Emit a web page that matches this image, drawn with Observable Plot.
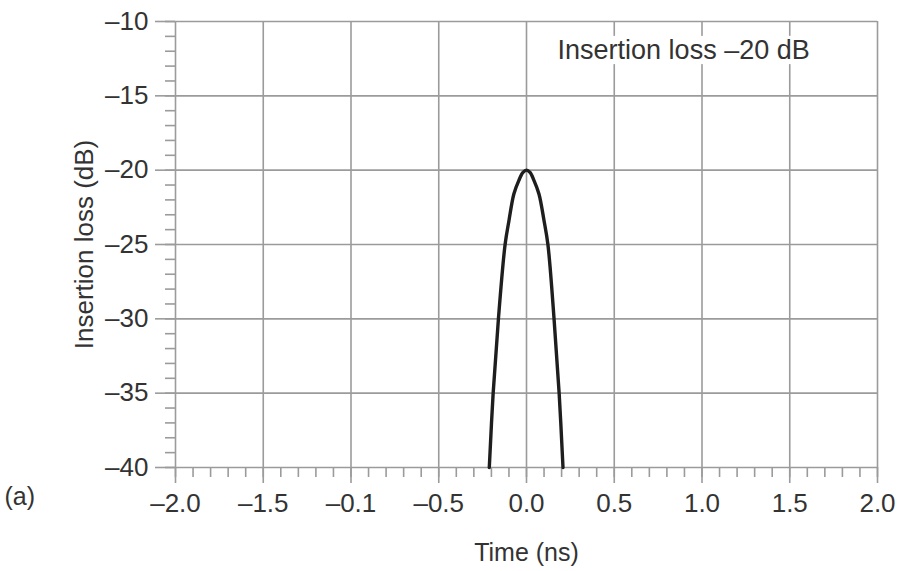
<!DOCTYPE html>
<html>
<head>
<meta charset="utf-8">
<script src="https://cdn.jsdelivr.net/npm/d3@7"></script>
<script src="https://cdn.jsdelivr.net/npm/@observablehq/plot@0.6"></script>
<style>
  html, body { margin: 0; padding: 0; background: #fff; }
  #chart { width: 899px; height: 571px; }
</style>
</head>
<body>
<div id="chart"></div>
<script>
// ---- data ----
const xMajor = [-2, -1.5, -1, -0.5, 0, 0.5, 1, 1.5, 2];
const xTickLabels = ["–2.0", "–1.5", "–0.1", "–0.5", "0.0", "0.5", "1.0", "1.5", "2.0"];
const xMinor = d3.range(-20, 21).map(d => d / 10);
const yMajor = [-40, -35, -30, -25, -20, -15, -10];
const yTickLabels = ["–40", "–35", "–30", "–25", "–20", "–15", "–10"];
const yMinor = d3.range(-40, -9);

const timeNs = [-0.212, -0.19, -0.16, -0.122, -0.10, -0.072, -0.044, -0.02, 0, 0.02, 0.043, 0.071, 0.10, 0.122, 0.157, 0.186, 0.208];
const lossDb = [-40, -35, -30, -25, -23.4, -21.6, -20.7, -20.15, -20, -20.15, -20.7, -21.6, -23.4, -25, -30, -35, -40];

const annotationText = ["Insertion loss –20 dB"];
const annotationAt = [{x: 0.177, y: -11.95}];
const annotationBox = [{x1: 0.14, x2: 1.68, y1: -11.0, y2: -12.9}];

const xTitle = "Time (ns)";
const yTitle = "Insertion loss (dB)";
const panelLabel = "(a)";

// ---- chart ----
const curve = timeNs.map((t, i) => ({t, v: lossDb[i]}));
const gridColor = "#9b9b9b";
const textColor = "#333333";
const font = "'Liberation Sans', Arial, sans-serif";

const fmtX = d => xTickLabels[xMajor.indexOf(d)];
const fmtY = d => yTickLabels[yMajor.indexOf(d)];

const chart = Plot.plot({
  width: 899,
  height: 571,
  marginLeft: 175,
  marginRight: 22,
  marginTop: 21,
  marginBottom: 104,
  style: {fontFamily: font, color: textColor, background: "#fff", overflow: "visible"},
  x: {domain: [-2, 2]},
  y: {domain: [-40, -10]},
  marks: [
    Plot.gridX(xMajor, {stroke: gridColor, strokeOpacity: 1, strokeWidth: 1.6}),
    Plot.gridY(yMajor, {stroke: gridColor, strokeOpacity: 1, strokeWidth: 1.6}),
    Plot.rect(annotationBox, {x1: "x1", x2: "x2", y1: "y1", y2: "y2", fill: "white"}),
    Plot.axisX(xMinor, {tickSize: 10, tickFormat: () => "", stroke: gridColor, strokeWidth: 1.6, label: null}),
    Plot.axisX(xMajor, {tickSize: 16, tickPadding: 10, tickFormat: fmtX, stroke: gridColor, strokeWidth: 1.6,
      fontSize: 26, fill: textColor, label: null}),
    Plot.axisY(yMinor, {tickSize: 10, tickFormat: () => "", stroke: gridColor, strokeWidth: 1.6, label: null}),
    Plot.axisY(yMajor, {tickSize: 20, tickPadding: 7, tickFormat: fmtY, stroke: gridColor, strokeWidth: 1.6,
      fontSize: 26, fill: textColor, label: null}),
    Plot.line(curve, {x: "t", y: "v", stroke: "#1e1e1e", strokeWidth: 3.4, curve: "catmull-rom"}),
    Plot.text(annotationAt, {x: "x", y: "y", text: () => annotationText[0], textAnchor: "start", lineAnchor: "middle",
      fontSize: 27, fill: textColor}),
    Plot.text([xTitle], {frameAnchor: "bottom", dy: 85, text: d => d, textAnchor: "middle", lineAnchor: "middle",
      fontSize: 25, fill: textColor}),
    Plot.text([yTitle], {frameAnchor: "left", dx: -91, rotate: -90, text: d => d, textAnchor: "middle", lineAnchor: "middle",
      fontSize: 26, fill: textColor}),
    Plot.text([panelLabel], {frameAnchor: "bottom-left", dx: -171, dy: 29, text: d => d, textAnchor: "start", lineAnchor: "middle",
      fontSize: 25, fill: textColor})
  ]
});
document.getElementById("chart").appendChild(chart);
</script>
</body>
</html>
